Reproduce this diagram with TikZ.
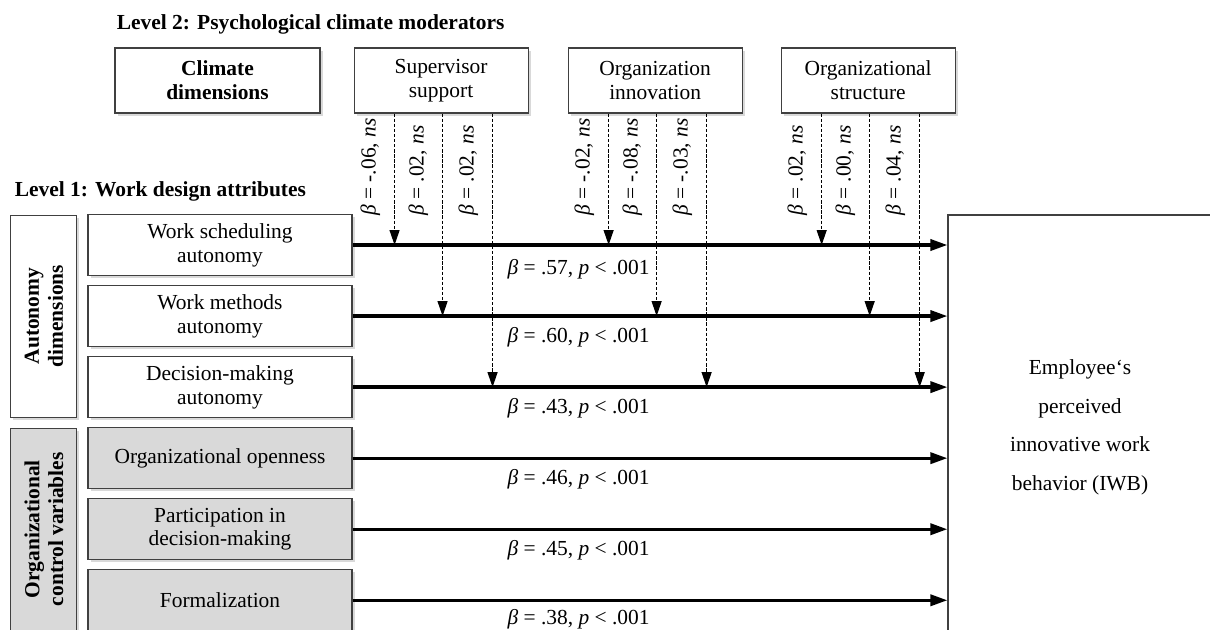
\documentclass[tikz,border=0pt]{standalone}
\usepackage{fontspec}
\setmainfont{Liberation Serif}
\usetikzlibrary{arrows.meta, positioning, calc, shadows}

\begin{document}
\begin{tikzpicture}[
    node distance=0.18cm and 0.2cm,
    every node/.style={font=\fontsize{12.2}{13.6}\selectfont, align=center},
    lvl/.style={anchor=west, inner sep=0pt, font=\fontsize{12.2}{13.6}\selectfont\bfseries},
    boxshadow/.style={drop shadow={opacity=0.3, shadow xshift=0.05cm, shadow yshift=-0.05cm}},
    modbox/.style={rectangle, draw=black!75, fill=white, semithick, minimum width=3.48cm, minimum height=1.3cm, boxshadow},
    attr/.style={rectangle, draw=black!75, fill=white, semithick, minimum width=5.28cm, minimum height=1.22cm, boxshadow},
    ctrl/.style={attr, fill=black!15},
    grp/.style={rectangle, draw=black!75, fill=white, semithick, minimum width=1.32cm, minimum height=4.04cm, boxshadow},
    grplbl/.style={rotate=90, font=\fontsize{12.2}{13.6}\selectfont\bfseries},
    outcome/.style={rectangle, draw=black!75, fill=white, semithick, minimum width=5.28cm, minimum height=8.5cm, font=\fontsize{12.2}{22}\selectfont},
    mainarrow/.style={-{Triangle[length=0.34cm, width=0.22cm]}, line width=1.9pt},
    modarrow/.style={-{Triangle[length=0.3cm, width=0.2cm]}, line width=0.7pt, dash pattern=on 1.9pt off 1pt},
    effect/.style={below=#1, inner sep=0pt},
    modlbl/.style={rotate=90, anchor=base west, inner sep=0pt}
]
\useasboundingbox (0,0) rectangle (24.2,-12.58);

% ================= LEVEL 2: CLIMATE MODERATORS =================
\node[modbox, minimum width=4.1cm, font=\fontsize{12.2}{13.6}\selectfont\bfseries] (clim) at (4.35,-1.61) {Climate\\dimensions};
\node[modbox, right=0.66cm of clim] (sup) {Supervisor\\support};
\node[modbox, right=0.78cm of sup] (inn) {Organization\\innovation};
\node[modbox, right=0.76cm of inn] (str) {Organizational\\structure};
\node[lvl] (lvl2) at ($(clim.north west)+(0.04,0.46)$) {Level 2: Psychological climate moderators};

% ================= LEVEL 1: WORK DESIGN ATTRIBUTES =================
\node[attr] (ws) at (4.4,-4.9) {Work scheduling\\autonomy};
\node[attr, below=of ws] (wm) {Work methods\\autonomy};
\node[attr, below=of wm] (dm) {Decision-making\\autonomy};
\node[ctrl, below=of dm] (oo) {Organizational openness};
\node[ctrl, below=of oo] (pd) {Participation in\\decision-making};
\node[ctrl, below=of pd] (fo) {Formalization};

\node[grp, left=of wm] (auto) {};
\node[grplbl] at (auto.center) {Autonomy\\dimensions};
\node[grp, fill=black!15, left=of pd] (ctrlgrp) {};
\node[grplbl] at (ctrlgrp.center) {Organizational\\control variables};
\node[lvl] (lvl1) at ($(auto.north west)+(0.08,0.46)$) {Level 1: Work design attributes};

% ================= OUTCOME =================
\node[outcome] (iwb) at (21.6,-8.55) {Employee‘s\\perceived\\innovative work\\behavior (IWB)};

% direct effects
\foreach \r/\b/\g in {ws/.57/0.26cm, wm/.60/0.2cm, dm/.43/0.2cm, oo/.46/0.2cm, pd/.45/0.2cm, fo/.38/0.15cm}
    \draw[mainarrow] (\r.east) -- (\r.east -| iwb.west) node[effect=\g, pos=0.38] {\textit{β} = \b, \textit{p} < .001};

% cross-level moderation (box / offset / row / beta)
\foreach \m/\dx/\r/\b in {sup/-0.93/ws/-.06, sup/0.03/wm/.02, sup/1.03/dm/.02,
                          inn/-0.93/ws/-.02, inn/0.03/wm/-.08, inn/1.03/dm/-.03,
                          str/-0.93/ws/.02, str/0.03/wm/.00, str/1.03/dm/.04}{
    \draw[modarrow] ([xshift=\dx cm]\m.south) -- ([xshift=\dx cm]\m.south |- \r.east);
    \node[modlbl] at ([xshift={(\dx-0.38)*1cm}, yshift=0.58cm]\m.south |- ws.east) {\textit{β} = \b, \textit{ns}};
}

\end{tikzpicture}
\end{document}
